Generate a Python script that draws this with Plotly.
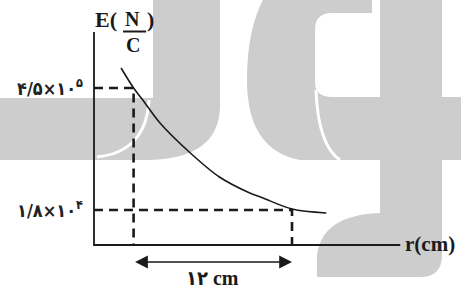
import plotly.graph_objects as go

# ---------------- data (schematic units: r in cm, E as drawn height) ----------------
r_curve = [2.05, 3.0, 3.7, 5.0, 7.3, 9.5, 11.8, 12.8, 15.0, 17.6]
e_curve = [17.7, 15.7, 14.5, 12.2, 9.2, 6.8, 5.2, 4.7, 3.6, 3.2]

r_marks = [3.0, 15.0]                 # r1, r2 (cm)
e_marks = [15.7, 3.5]                 # drawn heights of the two E values
e_labels = ["۴/۵×۱۰<sup>۵</sup>", "۱/۸×۱۰<sup>۴</sup>"]
span_label = "۱۲ cm"
x_title = "r(cm)"

# ---------------- layout constants ----------------
W, H = 461, 289
X_RANGE = [-94 / 13.2, (W - 94) / 13.2]
Y_RANGE = [-4.4, 24.5]
X_AXIS_END = 23.2
Y_AXIS_TOP = 21.3
GRAY = "#cdcdcd"
INK = "#1a1a1a"


def pp(x, y):
    return f"{x / W:.5f},{1 - y / H:.5f}"


def path(cmds):
    s = ""
    for c, pts in cmds:
        s += c + " " + " ".join(pp(*p) for p in pts) + " "
    return s.strip()


# watermark decoration (background)
wm_J = [("M", [(0, 98)]), ("L", [(153, 98)]), ("L", [(153, 0)]), ("L", [(220, 0)]),
        ("L", [(220, 108)]), ("Q", [(218, 158), (150, 160)]), ("L", [(0, 160)]), ("Z", [])]
wm_C = [("M", [(263, 0)]), ("L", [(372, 0)]), ("L", [(372, 13)]), ("L", [(332, 13)]),
        ("Q", [(315, 13), (315, 30)]), ("L", [(315, 82)]), ("Q", [(315, 97), (332, 97)]),
        ("L", [(461, 97)]), ("L", [(461, 160)]), ("L", [(300, 160)]),
        ("Q", [(247, 150), (247, 80)]), ("Q", [(247, 30), (263, 0)]), ("Z", [])]
wm_stem = [("M", [(380, 0)]), ("L", [(442, 0)]), ("L", [(442, 255)]),
           ("Q", [(442, 277), (420, 277)]), ("L", [(317, 277)]), ("L", [(317, 255)]),
           ("Q", [(322, 215), (380, 213)]), ("Z", [])]
gap1 = [("M", [(149, 100)]), ("Q", [(146, 152), (97, 157)])]
gap2 = [("M", [(316, 90)]), ("Q", [(318, 145), (340, 160)])]

shapes = []
for p in (wm_J, wm_C, wm_stem):
    shapes.append(dict(type="path", xref="paper", yref="paper", path=path(p),
                       fillcolor=GRAY, line=dict(width=0), layer="below"))
for p in (gap1, gap2):
    shapes.append(dict(type="path", xref="paper", yref="paper", path=path(p),
                       line=dict(color="white", width=3), layer="below"))

fig = go.Figure()

# axes
fig.add_trace(go.Scatter(x=[0, 0, X_AXIS_END], y=[Y_AXIS_TOP, 0, 0], mode="lines",
                         line=dict(color=INK, width=1.8), hoverinfo="skip"))

# dashed guide lines
for r, e in zip(r_marks, e_marks):
    fig.add_trace(go.Scatter(x=[0, r, r], y=[e, e, 0], mode="lines",
                             line=dict(color=INK, width=2.6, dash="9px,6px"),
                             hoverinfo="skip"))

# curve
fig.add_trace(go.Scatter(x=r_curve, y=e_curve, mode="lines",
                         line=dict(color=INK, width=1.6, shape="spline", smoothing=0.9),
                         hoverinfo="skip"))

ann = []
# y labels
for e, lab in zip(e_marks, e_labels):
    ann.append(dict(x=0, y=e, xref="x", yref="y", text="<b>" + lab + "</b>", showarrow=False,
                    xanchor="right", yanchor="middle", xshift=-9, yshift=1,
                    font=dict(family="DejaVu Sans Condensed, DejaVu Sans", size=18,
                              color="#222")))

# double arrow for span
ARROW_Y = -1.7
ann.append(dict(x=r_marks[1], y=ARROW_Y, ax=r_marks[0], ay=ARROW_Y, xref="x", yref="y",
                axref="x", ayref="y", text="", showarrow=True, arrowhead=2,
                arrowside="end+start", arrowsize=1.6, arrowwidth=1.6, arrowcolor=INK))
ann.append(dict(x=(r_marks[0] + r_marks[1]) / 2, y=-3.3, xref="x", yref="y",
                text="<b>" + span_label + "</b>",
                showarrow=False, xanchor="center", yanchor="middle",
                font=dict(family="Liberation Serif, DejaVu Sans Condensed", size=20, color=INK)))

# x title
ann.append(dict(x=X_AXIS_END, y=0, xref="x", yref="y", text="<b>" + x_title + "</b>",
                showarrow=False, xanchor="left", yanchor="middle", xshift=3, yshift=1,
                font=dict(family="Liberation Serif", size=21, color=INK)))

# y title E(N/C)
ann.append(dict(x=0, y=22.6, xref="x", yref="y", text="<b>E(</b>", showarrow=False,
                xanchor="left", yanchor="middle", xshift=-1,
                font=dict(family="Liberation Serif", size=22, color=INK)))
ann.append(dict(x=2.95, y=22.6, xref="x", yref="y", text="<b>N</b>", showarrow=False,
                xanchor="center", yanchor="middle",
                font=dict(family="Liberation Serif", size=20, color=INK)))
ann.append(dict(x=2.95, y=20.0, xref="x", yref="y", text="<b>C</b>", showarrow=False,
                xanchor="center", yanchor="middle",
                font=dict(family="Liberation Serif", size=20, color=INK)))
ann.append(dict(x=4.25, y=22.6, xref="x", yref="y", text="<b>)</b>", showarrow=False,
                xanchor="center", yanchor="middle",
                font=dict(family="Liberation Serif", size=22, color=INK)))
shapes.append(dict(type="line", xref="x", yref="y", x0=2.2, x1=3.95, y0=21.35, y1=21.35,
                   line=dict(color=INK, width=2)))

fig.update_layout(
    width=W, height=H, margin=dict(l=0, r=0, t=0, b=0),
    paper_bgcolor="white", plot_bgcolor="rgba(0,0,0,0)",
    showlegend=False, shapes=shapes, annotations=ann,
    xaxis=dict(range=X_RANGE, visible=False, fixedrange=True),
    yaxis=dict(range=Y_RANGE, visible=False, fixedrange=True),
)

fig.write_html("out.html", config={"displayModeBar": False},
               post_script="document.body.style.margin='0px';document.body.style.overflow='hidden';")
